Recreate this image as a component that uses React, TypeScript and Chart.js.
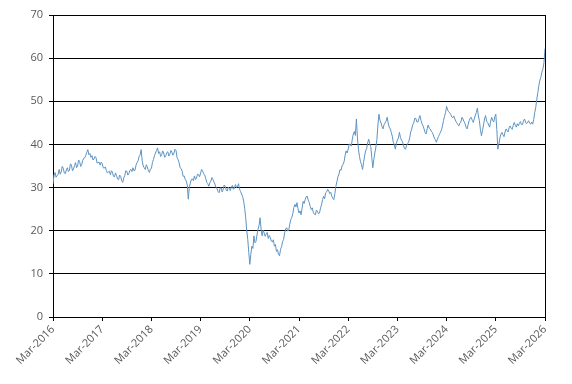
import React, { useEffect, useRef } from "react";
import { Chart, registerables } from "chart.js";

Chart.register(...registerables);

// Weekly-ish closes, starting Mar-2016 (index i -> month i/4)
const prices: number[] = [
  30.8, 32.9, 33.5, 32.4, 32.8, 33.0, 34.2, 33.1, 33.6, 34.9, 34.5, 33.4, 33.2, 34.1, 34.6, 33.7, 34.0, 35.5, 35.2, 33.9,
  34.3, 35.1, 35.8, 34.6, 35.0, 36.4, 36.0, 34.9, 35.3, 36.3, 36.8, 36.9, 37.5, 38.2, 38.8, 37.6, 37.9, 37.0, 37.4, 36.4,
  36.6, 37.2, 36.9, 35.7, 35.8, 35.9, 35.2, 35.9, 35.6, 34.6, 34.5, 34.8, 34.0, 33.4, 33.6, 33.8, 33.0, 33.9, 33.6, 32.6,
  32.5, 33.4, 32.8, 32.0, 31.8, 32.9, 32.6, 31.6, 31.2, 32.2, 32.8, 33.9, 33.8, 32.9, 33.2, 34.0, 34.2, 33.7, 34.6, 33.9,
  34.0, 35.2, 35.8, 36.2, 37.2, 37.6, 38.8, 36.2, 35.0, 34.6, 34.2, 35.3, 34.8, 34.0, 33.5, 34.3, 34.4, 35.8, 36.5, 37.4,
  38.0, 38.6, 39.2, 37.9, 38.3, 37.2, 37.6, 38.5, 38.0, 37.0, 37.4, 38.1, 38.3, 37.3, 37.7, 38.6, 38.2, 37.5, 38.0, 38.9,
  38.6, 37.0, 36.5, 35.8, 34.6, 34.4, 33.8, 32.6, 32.7, 31.9, 31.5, 30.6, 27.3, 30.2, 31.0, 31.9, 32.0, 31.6, 32.7, 31.9,
  32.2, 33.1, 33.0, 32.5, 33.4, 34.2, 33.8, 33.2, 32.9, 32.1, 31.2, 30.9, 30.3, 31.1, 31.5, 32.3, 31.9, 31.3, 30.8, 30.0,
  29.8, 29.1, 28.8, 29.8, 30.0, 29.0, 29.5, 30.6, 30.3, 29.4, 29.2, 30.1, 29.8, 29.3, 30.2, 30.5, 29.6, 29.9, 30.7, 30.0,
  30.2, 30.9, 29.6, 29.1, 28.5, 27.9, 26.9, 25.2, 23.0, 20.1, 18.0, 15.0, 12.2, 14.5, 16.4, 15.9, 18.8, 17.2, 17.5, 19.0,
  20.3, 21.2, 23.0, 20.4, 18.8, 20.1, 19.5, 18.7, 19.2, 19.6, 18.2, 18.9, 18.4, 17.6, 17.4, 17.9, 16.4, 16.8, 15.2, 15.6,
  14.5, 14.2, 15.7, 16.3, 17.5, 18.0, 19.5, 20.4, 20.7, 19.9, 20.2, 21.5, 22.6, 23.1, 24.0, 25.4, 26.1, 25.5, 26.5, 25.1,
  24.1, 24.6, 23.7, 25.2, 26.8, 26.3, 27.2, 27.9, 28.0, 27.1, 26.5, 25.6, 24.9, 25.3, 24.2, 23.8, 23.7, 24.8, 24.5, 23.9,
  24.1, 25.3, 26.0, 27.2, 28.0, 27.4, 28.8, 29.0, 29.6, 29.2, 28.6, 28.9, 28.0, 27.5, 27.2, 28.6, 30.3, 31.4, 32.5, 33.1,
  34.2, 34.0, 35.0, 35.4, 36.0, 37.5, 38.5, 38.0, 38.9, 40.1, 40.0, 39.6, 41.2, 42.4, 43.0, 42.1, 45.9, 41.5, 38.9, 37.2,
  36.0, 35.3, 34.2, 35.8, 37.3, 38.5, 39.0, 40.4, 41.2, 40.2, 39.5, 37.0, 34.6, 36.5, 38.0, 39.4, 41.2, 44.5, 47.0, 45.6,
  45.0, 44.1, 43.6, 44.6, 45.0, 45.4, 46.3, 45.0, 44.0, 43.6, 42.8, 41.9, 40.5, 39.9, 38.9, 40.3, 41.0, 41.5, 42.8, 41.6,
  41.0, 40.6, 39.7, 39.0, 38.9, 39.8, 40.2, 40.6, 41.5, 42.9, 43.6, 44.6, 45.0, 46.1, 46.0, 45.2, 45.2, 46.0, 46.7, 45.6,
  44.8, 44.3, 43.6, 42.8, 42.4, 43.6, 44.5, 43.8, 43.6, 43.1, 42.8, 42.2, 41.5, 41.1, 40.5, 41.2, 41.8, 42.3, 42.8, 43.4,
  44.3, 45.6, 46.5, 47.4, 48.8, 48.0, 47.6, 47.3, 47.0, 46.4, 46.2, 46.6, 45.9, 45.4, 45.0, 44.6, 44.3, 45.0, 45.2, 46.3,
  45.9, 45.3, 44.8, 44.0, 43.6, 44.6, 45.5, 46.1, 46.3, 45.6, 45.1, 45.9, 46.8, 47.4, 48.4, 46.6, 45.5, 43.4, 42.0, 43.2,
  44.5, 45.9, 46.7, 45.4, 45.1, 44.5, 44.0, 45.4, 46.3, 45.5, 45.2, 46.4, 47.0, 43.5, 38.9, 40.1, 41.5, 42.4, 42.8, 42.2,
  41.8, 42.9, 43.6, 43.2, 42.9, 43.9, 44.3, 43.7, 43.5, 44.4, 45.1, 44.4, 44.0, 44.8, 44.3, 44.9, 45.3, 44.6, 44.6, 45.4,
  45.9, 45.2, 44.8, 45.1, 45.5, 44.9, 44.7, 45.2, 44.7, 45.8, 47.4, 48.6, 50.5, 52.0, 53.6, 54.9, 55.6, 56.8, 57.5, 59.0,
  62.2,
];

const startYear = 2016;
const tickMonths: number[] = [0, 12, 24, 36, 48, 60, 72, 84, 96, 108, 120];
const yTicks: number[] = [0, 10, 20, 30, 40, 50, 60, 70];

export default function App() {
  const ref = useRef<HTMLCanvasElement>(null);

  useEffect(() => {
    document.body.style.margin = "0";
    if (!ref.current) return;
    const points = prices.map((v, i) => ({ x: i / 4, y: v }));
    const rightBorder = {
      id: "rightBorder",
      afterDraw(chart: any) {
        const { ctx, chartArea } = chart;
        ctx.save();
        ctx.strokeStyle = "#000";
        ctx.lineWidth = 1;
        ctx.beginPath();
        ctx.moveTo(Math.round(chartArea.right) + 0.5, chartArea.top);
        ctx.lineTo(Math.round(chartArea.right) + 0.5, chartArea.bottom);
        ctx.stroke();
        ctx.restore();
      },
    };
    const chart = new Chart(ref.current, {
      type: "line",
      data: {
        datasets: [
          {
            data: points,
            borderColor: "#5d93c2",
            borderWidth: 1,
            pointRadius: 0,
            tension: 0,
            fill: false,
          },
        ],
      },
      options: {
        animation: false,
        responsive: false,
        events: [],
        layout: { padding: { top: 15, right: 27, left: 0, bottom: 0 } },
        plugins: { legend: { display: false }, tooltip: { enabled: false } },
        scales: {
          x: {
            type: "linear",
            min: 0,
            max: 120,
            afterBuildTicks(scale: any) {
              scale.ticks = tickMonths.map((v) => ({ value: v }));
            },
            afterFit(scale: any) {
              scale.height = 67;
            },
            ticks: {
              autoSkip: false,
              maxRotation: 45,
              minRotation: 45,
              padding: 2,
              color: "#595959",
              font: { family: "'Open Sans', 'DejaVu Sans', sans-serif", size: 11 },
              callback: (v: any) => "Mar-" + (startYear + Number(v) / 12),
            },
            grid: {
              drawOnChartArea: false,
              drawTicks: true,
              tickLength: 4,
              color: "#000",
            },
            border: { color: "#000", width: 1 },
          },
          y: {
            min: 0,
            max: 70,
            afterBuildTicks(scale: any) {
              scale.ticks = yTicks.map((v) => ({ value: v }));
            },
            afterFit(scale: any) {
              scale.width = 53;
            },
            ticks: {
              padding: 6,
              color: "#595959",
              font: { family: "'Open Sans', 'DejaVu Sans', sans-serif", size: 11 },
            },
            grid: {
              color: "#000",
              lineWidth: 1,
              tickLength: 4,
            },
            border: { color: "#000", width: 1 },
          },
        },
      },
      plugins: [rightBorder],
    });
    return () => chart.destroy();
  }, []);

  return <canvas ref={ref} width={572} height={384} style={{ display: "block" }} />;
}
